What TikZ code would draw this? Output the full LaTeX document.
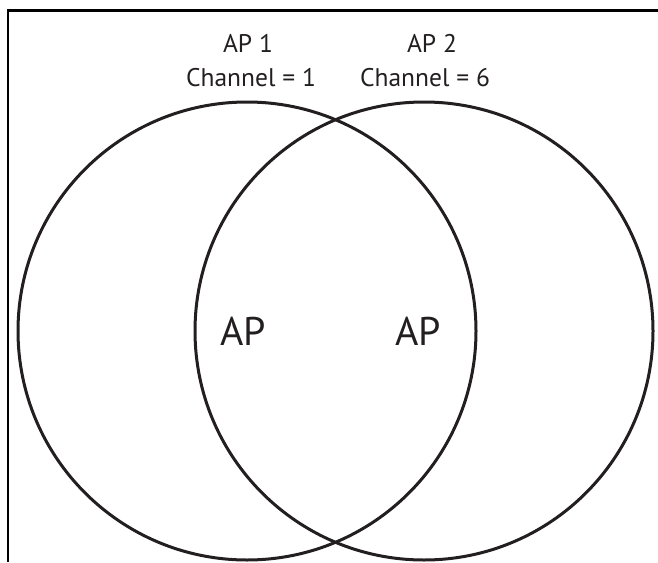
\documentclass[tikz,border=0pt]{standalone}
\usepackage{fontspec}
\setmainfont{PT Sans}
\definecolor{ink}{HTML}{231F20}
\begin{document}
\begin{tikzpicture}[x=1pt,y=-1pt,
  frameline/.style={line width=2.8pt,black},
  cell/.style={draw=ink,line width=3pt},
  lbl/.style={text=ink,font=\fontsize{25.5}{30}\selectfont,inner sep=0pt,anchor=base},
  biglbl/.style={text=ink,font=\fontsize{40}{46}\selectfont,inner sep=0pt,anchor=base}]
\useasboundingbox (0,0) rectangle (658,562);
\coordinate (fb) at (8,562);
\coordinate (fc) at (8,10.5);
\coordinate (fr) at (658,10.5);
\draw[frameline] (fb) -- (fc) -- (fr);
\node[cell,circle,minimum size=458pt,inner sep=0pt] (c1) at (247,331) {};
\node[cell,circle,minimum size=458pt,inner sep=0pt] (c2) at (424,331) {};
\node[lbl] (ap1) at (248,52) {AP 1};
\node[lbl] (ch1) at (251,86) {Channel = 1};
\node[lbl] (ap2) at (432,52) {AP 2};
\node[lbl] (ch6) at (425,86) {Channel = 6};
\node[biglbl] (a1) at (243,345) {AP};
\node[biglbl] (a2) at (418,345) {AP};
\end{tikzpicture}
\end{document}
